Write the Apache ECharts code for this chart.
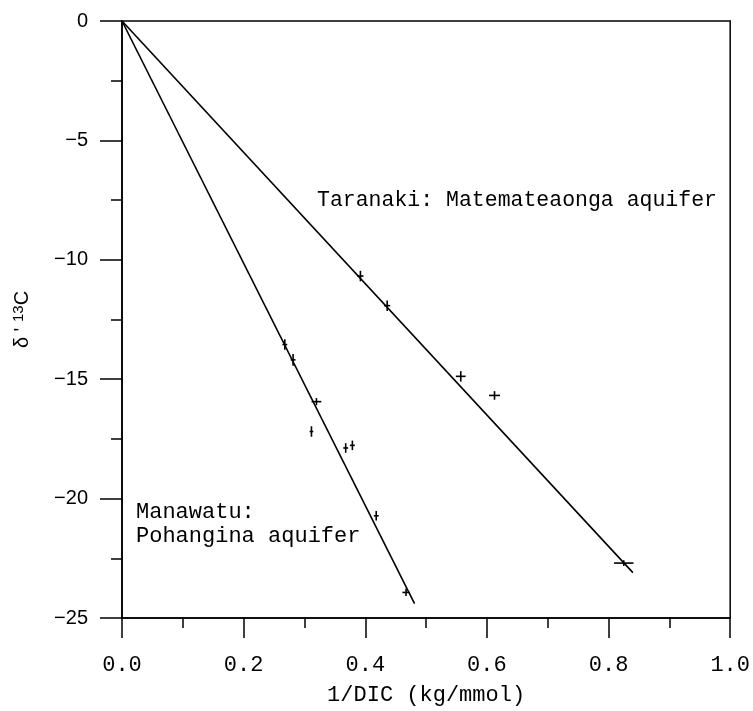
<!DOCTYPE html>
<html><head><meta charset="utf-8">
<script src="https://cdn.jsdelivr.net/npm/echarts@6/dist/echarts.min.js"></script>
<style>html,body{margin:0;padding:0;background:#fff}#c{width:753px;height:711px}</style>
</head><body><div id="c"></div>
<script>
// Taranaki: Matemateaonga aquifer
var taranakiX = [0.392, 0.436, 0.557, 0.6125, 0.825];
var taranakiY = [-10.68, -11.92, -14.88, -15.68, -22.7];
var taranakiXErr = [0.005, 0.005, 0.008, 0.009, 0.016];
var taranakiYErr = [0.22, 0.22, 0.22, 0.18, 0.12];
var taranakiFitX = [0, 0.84];
var taranakiFitY = [0, -23.1];
// Manawatu: Pohangina aquifer
var manawatuX = [0.2677, 0.2813, 0.3197, 0.3115, 0.3678, 0.3788, 0.418, 0.467];
var manawatuY = [-13.55, -14.19, -15.94, -17.19, -17.88, -17.77, -20.72, -23.93];
var manawatuXErr = [0.004, 0.004, 0.008, 0.003, 0.004, 0.004, 0.004, 0.006];
var manawatuYErr = [0.22, 0.25, 0.15, 0.22, 0.2, 0.2, 0.2, 0.15];
var manawatuFitX = [0, 0.481];
var manawatuFitY = [0, -24.4];
// axes
var xTicks = [0, 0.2, 0.4, 0.6, 0.8, 1.0];
var yTicks = [0, -5, -10, -15, -20, -25];

function zip(a, b, c, d) { return a.map(function (v, i) { return c ? [v, b[i], c[i], d[i]] : [v, b[i]]; }); }

function cross(params, api) {
  var x = api.value(0), y = api.value(1), ex = api.value(2), ey = api.value(3);
  var l = api.coord([x - ex, y]), r = api.coord([x + ex, y]);
  var t = api.coord([x, y + ey]), b = api.coord([x, y - ey]);
  var st = { stroke: '#000', lineWidth: 1.6 };
  return { type: 'group', children: [
    { type: 'line', shape: { x1: l[0], y1: l[1], x2: r[0], y2: r[1] }, style: st },
    { type: 'line', shape: { x1: t[0], y1: t[1], x2: b[0], y2: b[1] }, style: st }
  ]};
}

var chart = echarts.init(document.getElementById('c'), null, { renderer: 'canvas' });
chart.setOption({
  backgroundColor: '#fff',
  animation: false,
  grid: { left: 122, right: 22, top: 21, bottom: 84, show: true, borderColor: '#000', borderWidth: 1.5, backgroundColor: 'transparent' },
  xAxis: {
    type: 'value', min: 0, max: 1, interval: 0.2, position: 'bottom',
    name: '1/DIC (kg/mmol)', nameLocation: 'middle', nameGap: 66,
    nameTextStyle: { fontFamily: 'Liberation Mono', fontSize: 22, color: '#000' },
    axisLine: { show: true, onZero: false, lineStyle: { color: '#000', width: 1.6 } },
    axisTick: { show: true, inside: false, length: 20, lineStyle: { color: '#000', width: 1.5 } },
    minorTick: { show: true, splitNumber: 2, length: 10, lineStyle: { color: '#000', width: 1.5 } },
    splitLine: { show: false },
    axisLabel: { margin: 36, fontFamily: 'Liberation Mono', fontSize: 22, color: '#000',
      formatter: function (v) { return v.toFixed(1); } }
  },
  yAxis: {
    type: 'value', min: -25, max: 0, interval: 5, position: 'left',
    name: "δ ' {s|13}C", nameLocation: 'middle', nameGap: 88,
    nameTextStyle: { fontFamily: 'Liberation Sans', fontSize: 20, color: '#000',
      rich: { s: { fontFamily: 'Liberation Sans', fontSize: 15, color: '#000', verticalAlign: 'top', padding: [0, 0, 8, 0] } } },
    axisLine: { show: true, onZero: false, lineStyle: { color: '#000', width: 1.6 } },
    axisTick: { show: true, inside: false, length: 22, lineStyle: { color: '#000', width: 1.5 } },
    minorTick: { show: true, splitNumber: 2, length: 11, lineStyle: { color: '#000', width: 1.5 } },
    splitLine: { show: false },
    axisLabel: { margin: 34, fontFamily: 'Liberation Sans', fontSize: 20, color: '#000',
      formatter: function (v) { return String(v).replace('-', '\u2212'); } }
  },
  series: [
    { type: 'line', data: zip(taranakiFitX, taranakiFitY), symbol: 'none', lineStyle: { color: '#000', width: 1.6 }, z: 3 },
    { type: 'line', data: zip(manawatuFitX, manawatuFitY), symbol: 'none', lineStyle: { color: '#000', width: 1.6 }, z: 3 },
    { type: 'custom', renderItem: cross, data: zip(taranakiX, taranakiY, taranakiXErr, taranakiYErr), z: 4 },
    { type: 'custom', renderItem: cross, data: zip(manawatuX, manawatuY, manawatuXErr, manawatuYErr), z: 4 }
  ],
  graphic: [
    { type: 'text', left: 317, top: 189, style: { text: 'Taranaki: Matemateaonga aquifer', font: '21.5px "Liberation Mono"', fill: '#000' } },
    { type: 'text', left: 136, top: 500, style: { text: 'Manawatu:\nPohangina aquifer', font: '22px "Liberation Mono"', fill: '#000', lineHeight: 24 } }
  ]
});
</script></body></html>
